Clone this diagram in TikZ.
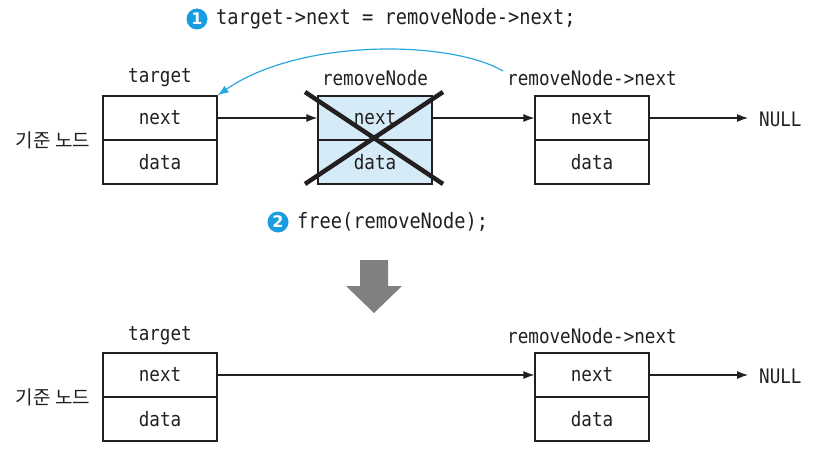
\documentclass[tikz,border=0pt]{standalone}
\usepackage{fontspec}
\setmonofont[FakeStretch=0.88]{DejaVu Sans Mono}
\newfontfamily\kofont{Noto Sans CJK KR}
\newfontfamily\numfont{DejaVu Sans}
\usetikzlibrary{arrows.meta}
\definecolor{ink}{HTML}{231F20}
\definecolor{cyanline}{HTML}{29A8E0}
\definecolor{badge}{HTML}{1A9DE0}
\definecolor{delfill}{HTML}{D5EBF8}
\definecolor{bigarrow}{HTML}{808080}
\tikzset{
  cell/.style={draw=ink, line width=1.2pt, minimum width=114pt, minimum height=44pt,
    inner sep=0pt, font=\ttfamily\fontsize{20}{20}\selectfont, text=ink},
  delcell/.style={cell, fill=delfill},
  label/.style={font=\ttfamily\fontsize{20}{20}\selectfont, text=ink, inner sep=0pt},
  code/.style={font=\ttfamily\fontsize{21.2}{21.2}\selectfont, text=ink, inner sep=0pt, anchor=west},
  kolabel/.style={font=\kofont\fontsize{19}{19}\selectfont, text=ink, inner sep=0pt},
  link/.style={draw=ink, line width=1.2pt, -{Latex[length=11pt,width=8pt]}},
  numbadge/.style={circle, fill=badge, text=white, minimum size=21pt, inner sep=0pt,
    font=\numfont\bfseries\fontsize{16}{16}\selectfont},
  cross/.style={draw=ink, line width=4.5pt},
}
\begin{document}
\begin{tikzpicture}[x=1pt,y=-1pt]
\useasboundingbox (0,0) rectangle (818,460);

% step 1 caption
\node[numbadge] (b1) at (197,19) {1};
\node[code] (c1) at (216,19) {target->next = removeNode->next;};

% upper list: before removal
\node[cell] (tn) at (160,118) {next};
\node[cell] (td) at (160,162) {data};
\node[delcell] (rn) at (375,118) {next};
\node[delcell] (rd) at (375,162) {data};
\node[cell] (nn) at (592,118) {next};
\node[cell] (nd) at (592,162) {data};

\node[label] (tlab) at (160,78) {target};
\node[label] (rlab) at (375,78) {removeNode};
\node[label] (nlab) at (592,78) {removeNode->next};
\node[kolabel] (k1) at (53,140) {기준 노드};
\node[label, anchor=west, inner xsep=11pt] (null1) at (748,119) {NULL};

\draw[link] (tn.east) -- (rn.west);
\draw[link] (rn.east) -- (nn.west);
\draw[link] (nn.east) -- (nn.east -| null1.west);

% removed node crossed out
\coordinate (x1) at (305,92);
\coordinate (x2) at (443,184);
\coordinate (x3) at (443,92);
\coordinate (x4) at (305,184);
\draw[cross] (x1) -- (x2);
\draw[cross] (x3) -- (x4);

% relinked pointer
\coordinate (cstart) at (503,71);
\draw[cyanline, line width=1.2pt, -{Latex[length=11pt,width=8pt]}]
  (cstart) .. controls (450,40) and (300,38) .. (tn.north east);

% step 2 caption
\node[numbadge] (b2) at (278,222) {2};
\node[code] (c2) at (297,222) {free(removeNode);};

% transition arrow
\fill[bigarrow] (360,260) -- (388,260) -- (388,286) -- (402,286) -- (374,313)
  -- (346,286) -- (360,286) -- cycle;

% lower list: after removal
\node[cell] (tn2) at (160,375) {next};
\node[cell] (td2) at (160,419) {data};
\node[cell] (nn2) at (592,375) {next};
\node[cell] (nd2) at (592,419) {data};

\node[label] (tlab2) at (160,336) {target};
\node[label] (nlab2) at (592,336) {removeNode->next};
\node[kolabel] (k2) at (53,397) {기준 노드};
\node[label, anchor=west, inner xsep=11pt] (null2) at (748,376) {NULL};

\draw[link] (tn2.east) -- (nn2.west);
\draw[link] (nn2.east) -- (nn2.east -| null2.west);
\end{tikzpicture}
\end{document}
